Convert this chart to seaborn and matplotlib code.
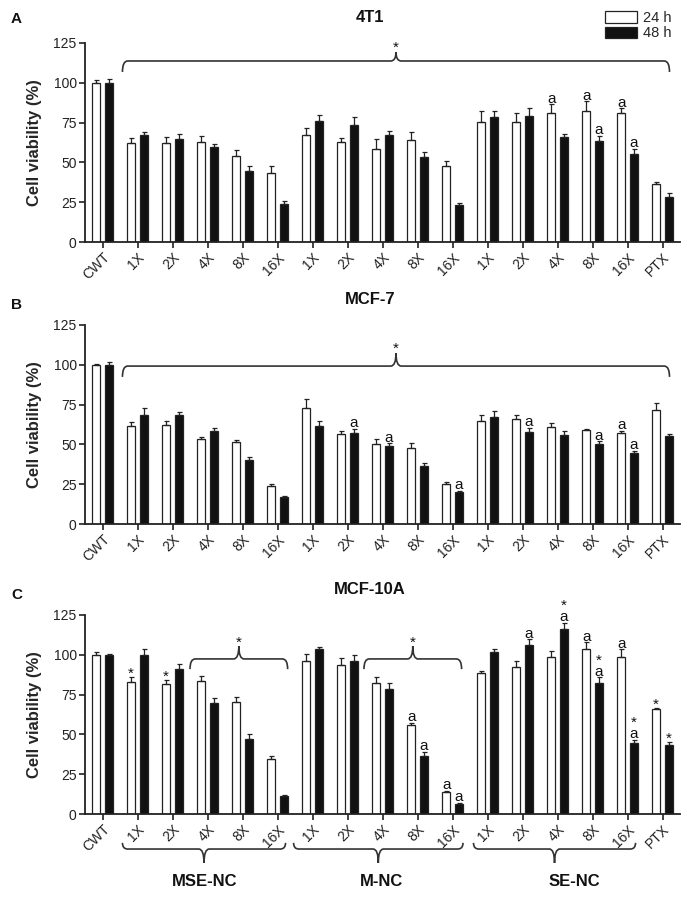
import matplotlib
matplotlib.use('Agg')
import matplotlib.pyplot as plt
import matplotlib.transforms as mtransforms
from matplotlib.path import Path
from matplotlib.patches import PathPatch, Patch
import seaborn as sns
import pandas as pd

sns.set_style('ticks')
plt.rcParams['font.family'] = ['Liberation Sans', 'DejaVu Sans']

# ---------------- data ----------------
groups = ['CWT',
          'MSE 1X', 'MSE 2X', 'MSE 4X', 'MSE 8X', 'MSE 16X',
          'M 1X', 'M 2X', 'M 4X', 'M 8X', 'M 16X',
          'SE 1X', 'SE 2X', 'SE 4X', 'SE 8X', 'SE 16X',
          'PTX']
tick_labels = ['CWT', '1X', '2X', '4X', '8X', '16X',
               '1X', '2X', '4X', '8X', '16X',
               '1X', '2X', '4X', '8X', '16X', 'PTX']
times = ['24 h', '48 h']

# Panel A: 4T1
a_24 = [100, 62.4, 62.4, 62.8, 54.2, 43.3, 67.4, 62.8, 58.6, 64.2, 47.5, 75.5, 75.1, 80.8, 82.6, 81.0, 36.6]
a_24_err = [1.7, 3.0, 3.6, 3.6, 3.6, 4.6, 4.2, 2.5, 6.0, 4.6, 3.1, 7.1, 5.7, 5.6, 5.9, 3.1, 1.3]
a_48 = [100, 67.0, 64.9, 59.7, 44.7, 23.6, 75.7, 73.6, 67.4, 53.6, 23.4, 78.5, 78.9, 65.7, 63.4, 55.2, 28.5]
a_48_err = [2.7, 2.1, 2.7, 1.9, 3.0, 1.9, 3.8, 4.9, 2.3, 2.7, 1.1, 4.1, 5.0, 2.1, 3.3, 3.2, 2.3]
a_24_marks = ['', '', '', '', '', '', '', '', '', '', '', '', '', 'a', 'a', 'a', '']
a_48_marks = ['', '', '', '', '', '', '', '', '', '', '', '', '', '', 'a', 'a', '']

# Panel B: MCF-7
b_24 = [100, 61.3, 62.1, 53.5, 51.2, 24.0, 72.7, 56.8, 50.2, 47.7, 25.1, 64.8, 65.8, 61.0, 58.9, 57.1, 71.9]
b_24_err = [0.5, 2.7, 2.9, 1.2, 1.8, 1.2, 5.7, 1.6, 3.3, 3.1, 1.0, 3.6, 2.6, 2.3, 0.7, 1.6, 4.0]
b_48 = [100, 68.2, 68.6, 58.5, 40.4, 17.1, 61.7, 57.2, 49.1, 36.2, 20.1, 66.9, 58.1, 56.2, 50.2, 44.5, 55.0]
b_48_err = [1.6, 4.8, 1.9, 1.9, 1.5, 0.5, 2.7, 2.6, 1.7, 2.1, 0.8, 4.1, 2.5, 2.3, 1.8, 1.5, 1.6]
b_24_marks = ['', '', '', '', '', '', '', '', '', '', '', '', '', '', '', 'a', '']
b_48_marks = ['', '', '', '', '', '', '', 'a', 'a', '', 'a', '', 'a', '', 'a', 'a', '']

# Panel C: MCF-10A
c_24 = [99.6, 83.2, 81.7, 83.6, 70.4, 34.7, 96.0, 93.9, 82.6, 56.1, 13.7, 88.4, 92.1, 98.8, 103.9, 98.8, 65.7]
c_24_err = [2.3, 2.9, 2.5, 3.2, 3.1, 1.5, 4.8, 4.4, 3.5, 1.2, 1.0, 1.7, 4.0, 3.6, 3.9, 4.6, 0.7]
c_48 = [99.6, 99.6, 91.2, 70.0, 47.3, 11.5, 103.4, 96.4, 78.6, 36.3, 6.3, 102.0, 105.9, 116.0, 82.1, 44.8, 43.3]
c_48_err = [0.6, 3.8, 2.9, 3.1, 2.7, 0.4, 1.6, 3.2, 3.5, 2.6, 0.6, 1.6, 3.8, 4.2, 3.7, 1.9, 1.9]
c_24_marks = ['', '*', '*', '', '', '', '', '', '', 'a', 'a', '', '', '', 'a', 'a', '*']
c_48_marks = ['', '', '', '', '', '', '', '', '', 'a', 'a', '', 'a', '*\na', '*\na', '*\na', '*']

group_names = ['MSE-NC', 'M-NC', 'SE-NC']
panel_titles = ['4T1', 'MCF-7', 'MCF-10A']
panel_letters = ['A', 'B', 'C']

# ---------------- figure ----------------
W, H = 690, 898
fig = plt.figure(figsize=(W / 100, H / 100), dpi=100)
EDGE = '#222222'
DARK = '#111111'


def px_axes(left, top, right, bottom):
    return fig.add_axes([left / W, 1 - bottom / H, (right - left) / W, (bottom - top) / H])


def brace(ax, x0, x1, y_line, y_end, y_tip, xr, trans, lw=1.2):
    xc = (x0 + x1) / 2
    verts = [(x0, y_end), (x0, y_line), (x0 + xr, y_line),
             (xc - xr, y_line), (xc, y_line), (xc, y_tip),
             (xc, y_line), (xc + xr, y_line),
             (x1 - xr, y_line), (x1, y_line), (x1, y_end)]
    codes = [Path.MOVETO, Path.CURVE3, Path.CURVE3,
             Path.LINETO, Path.CURVE3, Path.CURVE3,
             Path.CURVE3, Path.CURVE3,
             Path.LINETO, Path.CURVE3, Path.CURVE3]
    ax.add_patch(PathPatch(Path(verts, codes), fill=False, edgecolor='#333333',
                           lw=lw, transform=trans, clip_on=False))


def panel(ax, v24, e24, v48, e48, m24, m48):
    df = pd.DataFrame({'group': groups * 2,
                       'value': v24 + v48,
                       'time': [times[0]] * len(groups) + [times[1]] * len(groups)})
    sns.barplot(data=df, x='group', y='value', hue='time', order=groups,
                hue_order=times, palette={times[0]: 'white', times[1]: DARK},
                edgecolor=EDGE, linewidth=0.9, width=0.72, gap=0.32,
                errorbar=None, legend=False, ax=ax, saturation=1)
    errs = {times[0]: e24, times[1]: e48}
    marks = {times[0]: m24, times[1]: m48}
    for p in ax.patches:
        cx = p.get_x() + p.get_width() / 2
        i = int(round(cx))
        t = times[1] if cx > i else times[0]
        h = p.get_height()
        e = errs[t][i]
        ax.errorbar(cx, h, yerr=[[0], [e]], fmt='none', ecolor=EDGE,
                    elinewidth=0.9, capsize=1.8, capthick=0.9, zorder=3)
        m = marks[t][i]
        if m:
            if m == '*':
                ax.text(cx, h + e - 0.6, m, ha='center', va='baseline', fontsize=11,
                        color=DARK)
            else:
                ax.text(cx, h + e + 1.0, m, ha='center', va='baseline', fontsize=11,
                        color=DARK, linespacing=0.72, multialignment='center')
    ax.set_xlim(-0.5, len(groups) - 0.5)
    ax.set_ylim(0, 125)
    ax.set_yticks([0, 25, 50, 75, 100, 125])
    ax.set_xticks(range(len(groups)))
    ax.set_xticklabels(tick_labels, rotation=45, ha='right', rotation_mode='anchor')
    ax.set_xlabel('')
    ax.set_ylabel('Cell viability (%)', fontsize=12, fontweight='bold')
    ax.yaxis.set_label_coords(-0.073, 0.5)
    sns.despine(ax=ax)
    for s in ['left', 'bottom']:
        ax.spines[s].set_linewidth(1.3)
        ax.spines[s].set_color(EDGE)
    ax.tick_params(direction='out', length=4, width=1.2, color=EDGE,
                   labelsize=10, pad=2, labelcolor='#222222')


ax_a = px_axes(85, 43, 680, 242)
ax_b = px_axes(85, 325, 680, 524)
ax_c = px_axes(85, 615, 680, 814)

panel(ax_a, a_24, a_24_err, a_48, a_48_err, a_24_marks, a_48_marks)
panel(ax_b, b_24, b_24_err, b_48, b_48_err, b_24_marks, b_48_marks)
panel(ax_c, c_24, c_24_err, c_48, c_48_err, c_24_marks, c_48_marks)

# significance braces
brace(ax_a, 0.57, 16.2, 113.7, 106.8, 119.3, 0.15, ax_a.transData)
ax_a.text(8.385, 119.5, '*', ha='center', va='baseline', fontsize=11, color=DARK)
brace(ax_b, 0.57, 16.2, 99.2, 92.4, 107.4, 0.15, ax_b.transData)
ax_b.text(8.385, 107.5, '*', ha='center', va='baseline', fontsize=11, color=DARK)
brace(ax_c, 2.5, 5.29, 97.4, 91.0, 105.5, 0.15, ax_c.transData)
ax_c.text(3.895, 104.8, '*', ha='center', va='baseline', fontsize=11, color=DARK)
brace(ax_c, 7.47, 10.26, 97.4, 91.0, 105.5, 0.15, ax_c.transData)
ax_c.text(8.865, 104.8, '*', ha='center', va='baseline', fontsize=11, color=DARK)

# group braces below panel C
blend = mtransforms.blended_transform_factory(ax_c.transData, ax_c.transAxes)
for (x0, x1), lx, name in zip([(0.57, 5.23), (5.46, 10.3), (10.6, 15.23)],
                              [2.93, 7.96, 13.48], group_names):
    brace(ax_c, x0, x1, -0.176, -0.145, -0.246, 0.15, blend)
    ax_c.text(lx, -0.34, name, transform=blend, ha='center', va='center',
              fontsize=12, fontweight='bold', color=DARK, clip_on=False)

# titles and panel letters
for y_t, y_l, title, letter in zip([17, 299, 590], [19, 305, 595], panel_titles, panel_letters):
    fig.text(370 / W, 1 - y_t / H, title, ha='center', va='center', fontsize=12,
             fontweight='bold', color=DARK)
    fig.text(11 / W, 1 - y_l / H, letter, ha='left', va='center', fontsize=11,
             fontweight='bold', color=DARK)

# legend
handles = [Patch(facecolor='white', edgecolor=EDGE, linewidth=0.9),
           Patch(facecolor=DARK, edgecolor=EDGE, linewidth=0.9)]
ax_a.legend(handles, times, loc='upper left', bbox_to_anchor=(605 / W, 1 - 11 / H),
            bbox_transform=fig.transFigure, frameon=False, fontsize=10.5,
            handlelength=2.2, handleheight=0.8, labelspacing=0.1, handletextpad=0.4,
            borderpad=0, borderaxespad=0)

fig.savefig('out.png', dpi=100)
